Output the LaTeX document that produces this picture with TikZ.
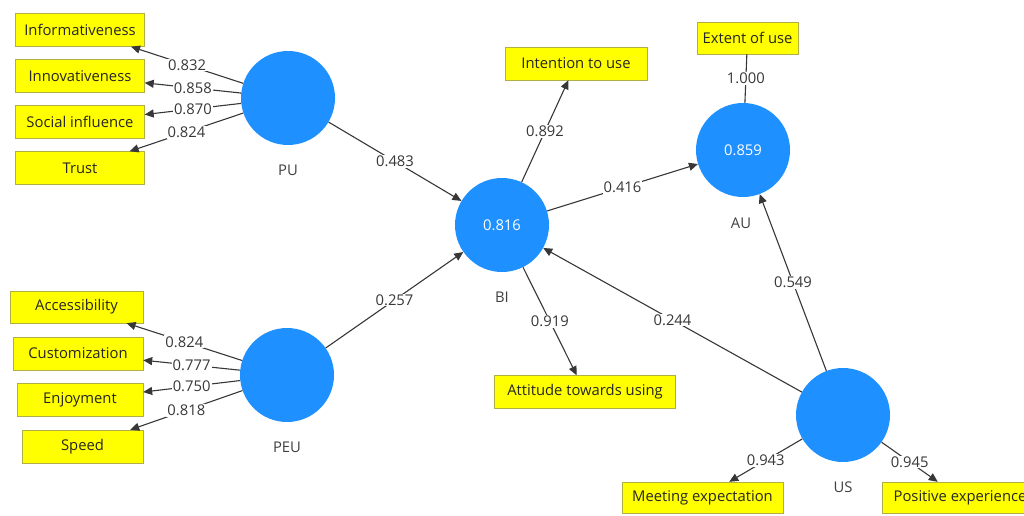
\documentclass[tikz,border=0pt]{standalone}
\usepackage{fontspec}
\setmainfont{Open Sans}
\usetikzlibrary{arrows.meta}
\definecolor{lvblue}{RGB}{30,144,255}
\definecolor{mvyellow}{RGB}{255,255,0}
\definecolor{mvline}{RGB}{175,175,70}
\definecolor{pathgray}{RGB}{55,55,55}
\begin{document}
\begin{tikzpicture}[x=1pt,y=-1pt,font=\fontsize{14.8}{17}\selectfont,
  lv/.style={circle,fill=lvblue,minimum size=94pt,inner sep=0pt,text=white},
  lvname/.style={text=black!75},
  mv/.style={draw=mvline,fill=mvyellow,minimum height=33pt,inner sep=0pt,text=black!85},
  conn/.style={draw=pathgray,line width=1.1pt,-{Triangle[length=9pt,width=8pt]}},
  coef/.style={fill=white,inner sep=1pt,text=pathgray}]
  \clip (0,0) rectangle (1024,516);
  % latent variables
  \node[lv] (PU) at (288,98) {}; \node[lvname] (PUn) at (288,170) {PU};
  \node[lv] (PEU) at (287,375) {}; \node[lvname] (PEUn) at (287,447) {PEU};
  \node[lv] (BI) at (502,225) {0.816}; \node[lvname] (BIn) at (502,297) {BI};
  \node[lv] (AU) at (743,150) {0.859}; \node[lvname] (AUn) at (741,223) {AU};
  \node[lv] (US) at (843,415) {}; \node[lvname] (USn) at (843,487) {US};
  % indicators
  \node[mv,minimum width=129pt] (inf) at (80,30) {Informativeness};
  \node[mv,minimum width=129pt] (inn) at (80,76) {Innovativeness};
  \node[mv,minimum width=129pt] (soc) at (80,122) {Social influence};
  \node[mv,minimum width=129pt] (tru) at (80,168) {Trust};
  \node[mv,minimum width=133pt,minimum height=32pt] (acc) at (76.5,307) {Accessibility};
  \node[mv,minimum width=130pt] (cus) at (78,353.5) {Customization};
  \node[mv,minimum width=126pt] (enj) at (80,399.5) {Enjoyment};
  \node[mv,minimum width=121pt] (spd) at (82.5,446.5) {Speed};
  \node[mv,minimum width=142pt] (itu) at (576,63.5) {Intention to use};
  \node[mv,minimum width=101pt,minimum height=32pt] (eou) at (747.5,38) {Extent of use};
  \node[mv,minimum width=181pt] (atu) at (585,392) {Attitude towards using};
  \node[mv,minimum width=161pt,minimum height=31pt] (mex) at (702.5,497.5) {Meeting expectation};
  \node[mv,minimum width=156pt,minimum height=31pt] (pex) at (960,497.5) {Positive experience};
  % outer loadings
  \draw[conn] (PU) -- node[coef] {0.832} (inf);
  \draw[conn] (PU) -- node[coef] {0.858} (inn);
  \draw[conn] (PU) -- node[coef] {0.870} (soc);
  \draw[conn] (PU) -- node[coef] {0.824} (tru);
  \draw[conn] (PEU) -- node[coef] {0.824} (acc);
  \draw[conn] (PEU) -- node[coef] {0.777} (cus);
  \draw[conn] (PEU) -- node[coef] {0.750} (enj);
  \draw[conn] (PEU) -- node[coef] {0.818} (spd);
  \draw[conn] (BI) -- node[coef] {0.892} (itu);
  \draw[conn] (BI) -- node[coef] {0.919} (atu);
  \draw[draw=pathgray,line width=1.1pt] (AU) -- node[coef] {1.000} (eou);
  \draw[conn] (US) -- node[coef] {0.943} (mex);
  \draw[conn] (US) -- node[coef] {0.945} (pex);
  % path coefficients
  \draw[conn] (PU) -- node[coef] {0.483} (BI);
  \draw[conn] (PEU) -- node[coef] {0.257} (BI);
  \draw[conn] (BI) -- node[coef] {0.416} (AU);
  \draw[conn] (US) -- node[coef] {0.244} (BI);
  \draw[conn] (US) -- node[coef] {0.549} (AU);
\end{tikzpicture}
\end{document}
